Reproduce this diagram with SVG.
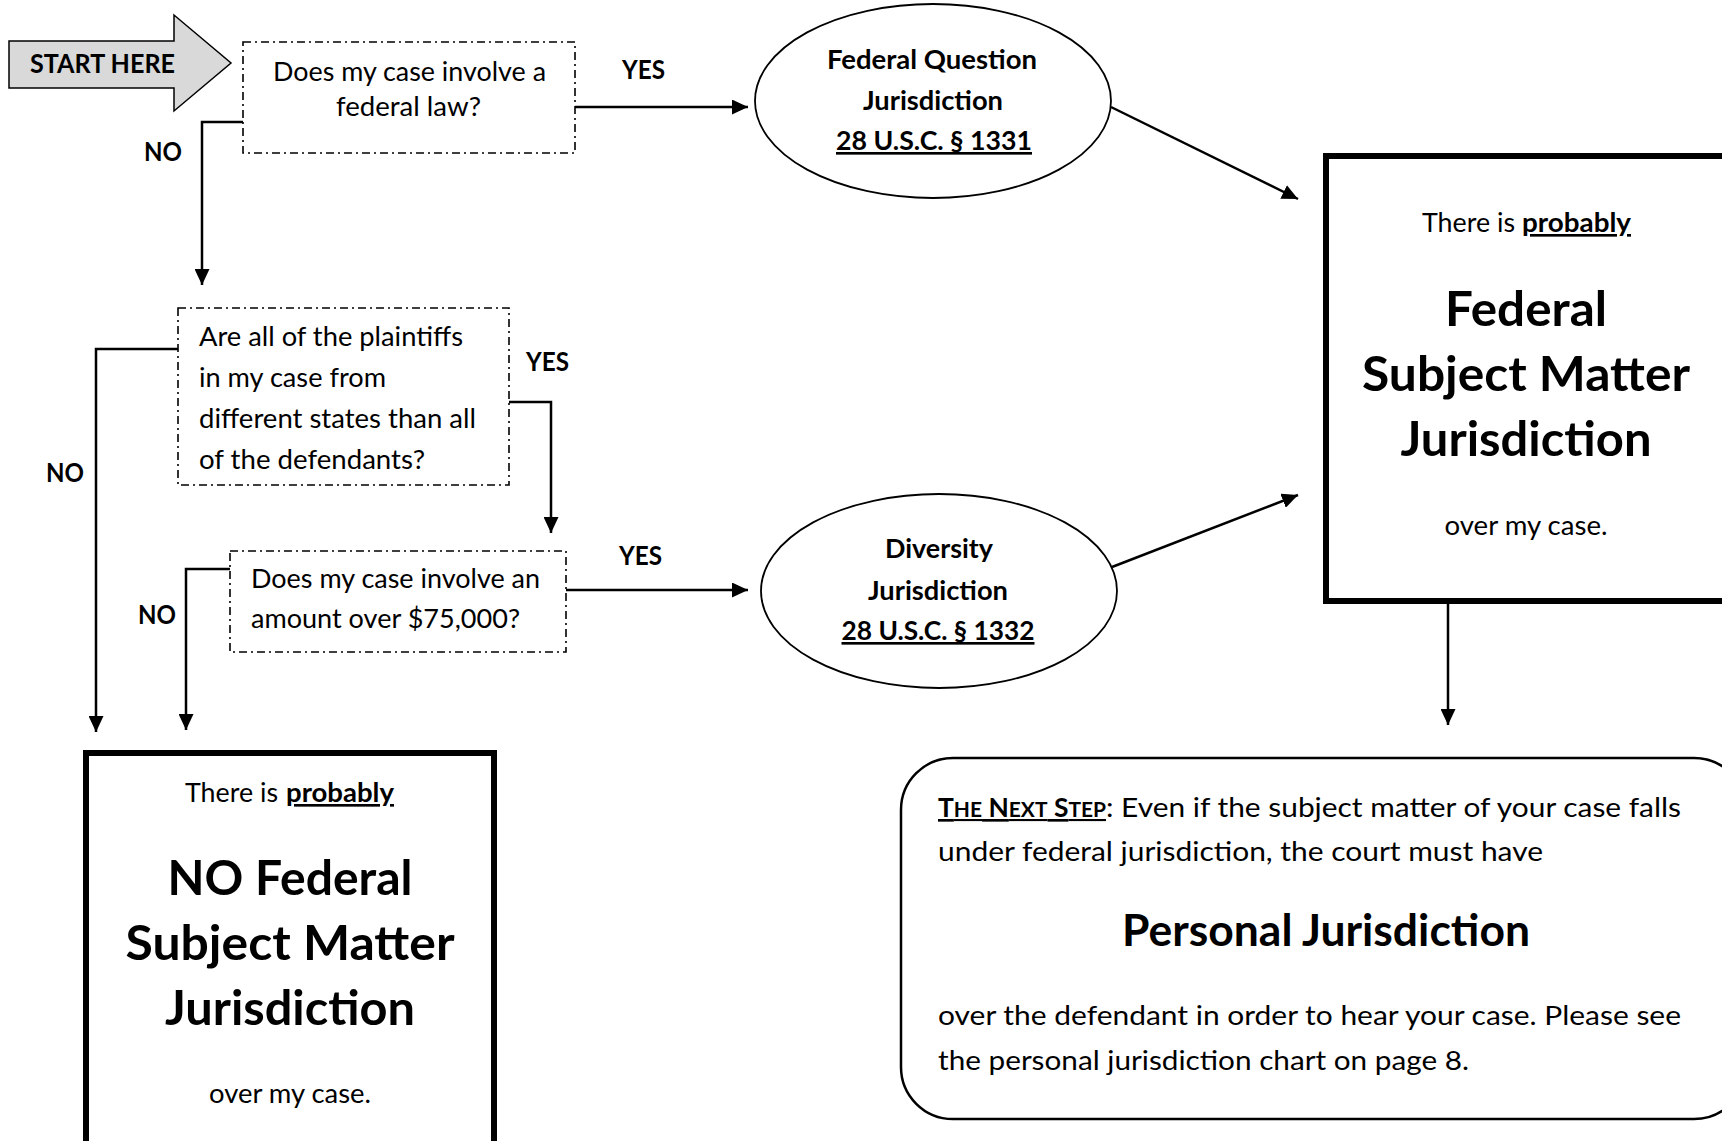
<svg xmlns="http://www.w3.org/2000/svg" width="1722" height="1141" viewBox="0 0 1722 1141">
<style>
text{font-family:Lato,"Liberation Sans",sans-serif;font-size:26.5px;fill:#000}
.b{font-weight:bold}
.u{text-decoration:underline}
.m{text-anchor:middle}
.big{font-size:48px;font-weight:bold}
.pj{font-size:43px;font-weight:bold}
.q{fill:#fff;stroke:#000;stroke-width:1.6;stroke-dasharray:8 4 2 4}
.ell{fill:#fff;stroke:#000;stroke-width:1.8}
.res{fill:#fff;stroke:#000;stroke-width:6}
.con{fill:none;stroke:#000;stroke-width:2.5}
.lab{font-weight:bold}
</style>
<defs>
<marker id="ah" markerUnits="userSpaceOnUse" markerWidth="16" markerHeight="15" refX="16" refY="7.5" orient="auto" viewBox="0 0 16 15">
<path d="M0,0 L16,7.5 L0,15 z" fill="#000"/>
</marker>
</defs>
<rect width="1722" height="1141" fill="#fff"/>

<g id="connectors">
<path class="con" d="M243,122 H202 V285" marker-end="url(#ah)"/>
<path class="con" d="M575,107 H748" marker-end="url(#ah)"/>
<path class="con" d="M1111,107 L1298,199" marker-end="url(#ah)"/>
<path class="con" d="M178,349 H96 V732" marker-end="url(#ah)"/>
<path class="con" d="M509,402 H551 V533" marker-end="url(#ah)"/>
<path class="con" d="M230,569 H186 V730" marker-end="url(#ah)"/>
<path class="con" d="M566,590 H748" marker-end="url(#ah)"/>
<path class="con" d="M1112,567 L1298,495" marker-end="url(#ah)"/>
<path class="con" d="M1448,604 V725" marker-end="url(#ah)"/>
<text class="lab" x="144" y="161" textLength="38" lengthAdjust="spacingAndGlyphs">NO</text>
<text class="lab" x="622" y="79" textLength="43" lengthAdjust="spacingAndGlyphs">YES</text>
<text class="lab" x="46" y="482" textLength="38" lengthAdjust="spacingAndGlyphs">NO</text>
<text class="lab" x="526" y="371" textLength="43" lengthAdjust="spacingAndGlyphs">YES</text>
<text class="lab" x="138" y="624" textLength="38" lengthAdjust="spacingAndGlyphs">NO</text>
<text class="lab" x="619" y="565" textLength="43" lengthAdjust="spacingAndGlyphs">YES</text>
</g>

<g id="start">
<polygon points="9,41 174,41 174,15 231,63 174,111 174,88 9,88" fill="#d9d9d9" stroke="#000" stroke-width="1.5"/>
<text class="b" x="30" y="73" textLength="145" lengthAdjust="spacingAndGlyphs">START HERE</text>
</g>

<g id="q1">
<rect class="q" x="243" y="42" width="332" height="111"/>
<text x="273" y="81" textLength="273" lengthAdjust="spacingAndGlyphs">Does my case involve a</text>
<text x="336" y="116" textLength="145" lengthAdjust="spacingAndGlyphs">federal law?</text>
</g>

<g id="fq">
<ellipse class="ell" cx="933" cy="101" rx="178" ry="97"/>
<text class="b m" x="932" y="69" textLength="210" lengthAdjust="spacingAndGlyphs">Federal Question</text>
<text class="b m" x="933" y="110" textLength="140" lengthAdjust="spacingAndGlyphs">Jurisdiction</text>
<text class="b m u" x="934" y="150" textLength="196" lengthAdjust="spacingAndGlyphs">28 U.S.C. § 1331</text>
</g>

<g id="q2">
<rect class="q" x="178" y="308" width="331" height="177"/>
<text x="199" y="346" textLength="264" lengthAdjust="spacingAndGlyphs">Are all of the plaintiffs</text>
<text x="199" y="387" textLength="187" lengthAdjust="spacingAndGlyphs">in my case from</text>
<text x="199" y="428" textLength="277" lengthAdjust="spacingAndGlyphs">different states than all</text>
<text x="199" y="469" textLength="226" lengthAdjust="spacingAndGlyphs">of the defendants?</text>
</g>

<g id="q3">
<rect class="q" x="230" y="551" width="336" height="101"/>
<text x="251" y="588" textLength="289" lengthAdjust="spacingAndGlyphs">Does my case involve an</text>
<text x="251" y="628" textLength="269" lengthAdjust="spacingAndGlyphs">amount over $75,000?</text>
</g>

<g id="dj">
<ellipse class="ell" cx="939" cy="591" rx="178" ry="97"/>
<text class="b m" x="939" y="558" textLength="108" lengthAdjust="spacingAndGlyphs">Diversity</text>
<text class="b m" x="938" y="600" textLength="140" lengthAdjust="spacingAndGlyphs">Jurisdiction</text>
<text class="b m u" x="938" y="640" textLength="193" lengthAdjust="spacingAndGlyphs">28 U.S.C. § 1332</text>
</g>

<g id="yes-box">
<rect class="res" x="1326" y="156" width="408" height="445"/>
<text x="1422" y="232" textLength="93" lengthAdjust="spacingAndGlyphs">There is</text>
<text class="b u" x="1522" y="232" textLength="109" lengthAdjust="spacingAndGlyphs">probably</text>
<text class="big m" x="1526" y="326" textLength="162" lengthAdjust="spacingAndGlyphs">Federal</text>
<text class="big m" x="1526" y="391" textLength="328" lengthAdjust="spacingAndGlyphs">Subject Matter</text>
<text class="big m" x="1526" y="456" textLength="251" lengthAdjust="spacingAndGlyphs">Jurisdiction</text>
<text class="m" x="1526" y="535" textLength="163" lengthAdjust="spacingAndGlyphs">over my case.</text>
</g>

<g id="no-box">
<rect class="res" x="86" y="753" width="408" height="420"/>
<text x="185" y="802" textLength="93" lengthAdjust="spacingAndGlyphs">There is</text>
<text class="b u" x="286" y="802" textLength="108" lengthAdjust="spacingAndGlyphs">probably</text>
<text class="big m" x="290" y="895" textLength="245" lengthAdjust="spacingAndGlyphs">NO Federal</text>
<text class="big m" x="290" y="960" textLength="329" lengthAdjust="spacingAndGlyphs">Subject Matter</text>
<text class="big m" x="290" y="1025" textLength="250" lengthAdjust="spacingAndGlyphs">Jurisdiction</text>
<text class="m" x="290" y="1103" textLength="162" lengthAdjust="spacingAndGlyphs">over my case.</text>
</g>

<g id="next-step">
<rect x="901" y="758" width="845" height="361" rx="52" ry="52" fill="#fff" stroke="#000" stroke-width="2.5"/>
<text class="b u" x="938" y="817" textLength="168" lengthAdjust="spacingAndGlyphs">T<tspan font-size="21">HE</tspan> N<tspan font-size="21">EXT</tspan> S<tspan font-size="21">TEP</tspan></text>
<text x="1106" y="817" textLength="575" lengthAdjust="spacingAndGlyphs">: Even if the subject matter of your case falls</text>
<text x="938" y="861" textLength="605" lengthAdjust="spacingAndGlyphs">under federal jurisdiction, the court must have</text>
<text class="pj m" x="1326" y="946" textLength="408" lengthAdjust="spacingAndGlyphs">Personal Jurisdiction</text>
<text x="938" y="1025" textLength="743" lengthAdjust="spacingAndGlyphs">over the defendant in order to hear your case. Please see</text>
<text x="938" y="1070" textLength="531" lengthAdjust="spacingAndGlyphs">the personal jurisdiction chart on page 8.</text>
</g>
</svg>
